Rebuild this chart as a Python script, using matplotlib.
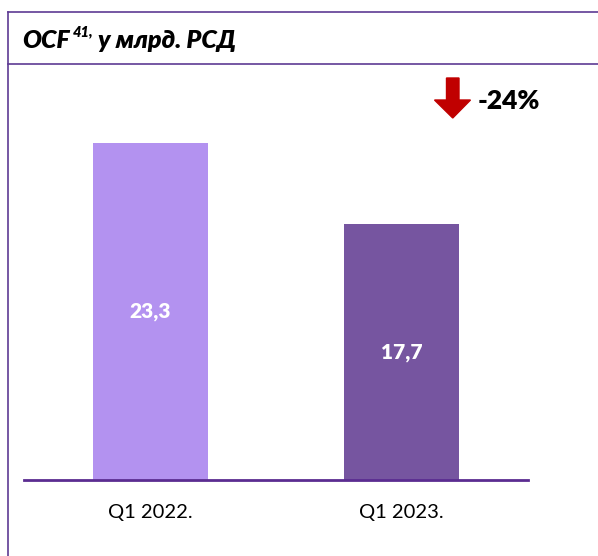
import matplotlib.pyplot as plt
from matplotlib.lines import Line2D
from matplotlib.patches import Polygon

plt.rcParams['font.family'] = ['Lato', 'DejaVu Sans']

categories = ['Q1 2022.', 'Q1 2023.']
values = [23.3, 17.7]
value_labels = ['23,3', '17,7']
bar_colors = ['#B392F0', '#7655A0']
change_label = '-24%'

W, H = 598, 556
fig = plt.figure(figsize=(W / 100, H / 100), dpi=100)


def fx(px):
    return px / W


def fy(py):
    return 1 - py / H


# Frame lines around the panel
frame_color = '#5E3B94'
fig.add_artist(Line2D([fx(8), fx(8)], [fy(12), 0], color=frame_color, lw=1.2))
fig.add_artist(Line2D([fx(8), 1], [fy(12), fy(12)], color=frame_color, lw=1.2))
fig.add_artist(Line2D([fx(8), 1], [fy(64), fy(64)], color=frame_color, lw=1.2))

# Title with superscript
renderer = fig.canvas.get_renderer()
t1 = fig.text(fx(22), fy(40), 'OCF', fontsize=18, fontweight='heavy',
              fontstyle='italic', va='center', ha='left')
bb = t1.get_window_extent(renderer)
t2 = fig.text(bb.x1 / W + fx(3), fy(32), '41,', fontsize=10.5, fontweight='heavy',
              fontstyle='italic', va='center', ha='left')
bb2 = t2.get_window_extent(renderer)
fig.text(bb2.x1 / W + fx(5), fy(40), 'у млрд. РСД', fontsize=18,
         fontweight='heavy', fontstyle='italic', va='center', ha='left')

# Bar chart
ax = fig.add_axes([fx(24), fy(480), fx(528) - fx(24), fy(70) - fy(480)])
x = range(len(categories))
bars = ax.bar(x, values, width=0.458, color=bar_colors)
for rect, lab in zip(bars, value_labels):
    ax.text(rect.get_x() + rect.get_width() / 2, rect.get_height() / 2, lab,
            ha='center', va='center', color='white', fontsize=15,
            fontweight='heavy')

ax.set_xlim(-0.504, 1.504)
ax.set_ylim(0, 410 / 14.46)
ax.set_xticks(list(x))
ax.set_xticklabels(categories, fontsize=14.5)
ax.tick_params(axis='x', length=0, pad=17)
ax.set_yticks([])
for side in ['top', 'right', 'left']:
    ax.spines[side].set_visible(False)
ax.spines['bottom'].set_color('#5B2C91')
ax.spines['bottom'].set_linewidth(2)

# Down arrow and change label
arrow = Polygon([
    (fx(446.5), fy(78)), (fx(459), fy(78)), (fx(459), fy(100)),
    (fx(470.5), fy(100)), (fx(452.75), fy(118)), (fx(434.5), fy(100)),
    (fx(446.5), fy(100)),
], closed=True, transform=fig.transFigure, color='#C00000')
fig.add_artist(arrow)
fig.text(fx(478), fy(101), change_label, fontsize=19, fontweight='heavy',
         va='center', ha='left')

fig.savefig('out.png', dpi=100)
